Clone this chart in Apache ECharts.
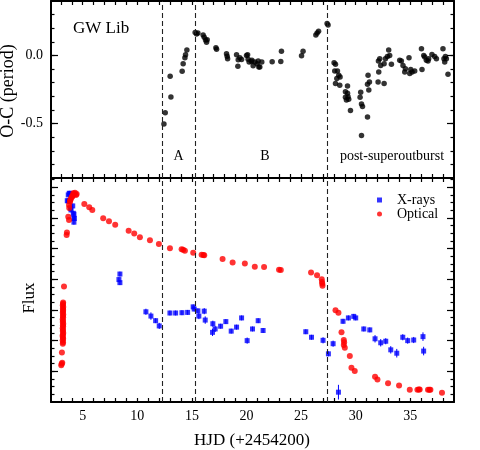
<!DOCTYPE html>
<html><head><meta charset="utf-8">
<script src="https://cdn.jsdelivr.net/npm/echarts@6/dist/echarts.min.js"></script>
<style>html,body{margin:0;padding:0;background:#fff}#c{width:480px;height:450px}</style>
</head><body><div id="c"></div><script>
// ---- Data (HJD - 2454200) ----
const ocDay = [12.44,12.56,13.01,13.08,14.11,14.20,14.36,14.42,14.54,
  15.30,15.43,15.55,16.03,16.13,16.25,16.40,16.34,17.20,17.26,18.17,18.23,18.27,19.09,19.24,19.21,19.39,19.55,
  20.00,20.10,20.15,20.24,20.46,20.49,20.61,20.76,20.97,21.07,21.13,21.22,21.40,22.35,23.14,23.20,25.04,25.18,
  26.35,26.47,26.60,27.38,27.47,
  28.02,28.15,28.08,28.33,28.45,28.57,28.27,28.15,28.54,29.25,29.06,29.25,29.06,29.30,29.36,29.15,29.52,
  30.46,30.40,30.53,30.62,31.08,30.53,31.13,31.26,31.08,31.20,32.08,32.20,32.29,32.11,32.05,32.60,32.60,32.72,
  32.90,33.02,33.11,33.27,34.03,34.18,34.33,34.49,34.55,34.88,34.95,35.16,35.40,35.04,36.02,36.07,36.23,36.32,
  36.47,36.62,36.68,36.98,37.23,37.39,37.99,38.08,38.15,38.21,38.30,38.45];
const ocValue = [-0.503,-0.420,-0.152,-0.305,-0.116,-0.060,-0.017,0.005,0.041,
  0.169,0.157,0.165,0.150,0.133,0.114,0.116,0.097,0.056,0.046,0.012,-0.005,-0.024,0.005,-0.031,-0.080,-0.017,-0.029,
  0.000,0.005,-0.027,-0.048,-0.044,-0.036,-0.075,-0.048,-0.060,-0.041,-0.085,-0.085,-0.048,-0.046,-0.044,0.031,-0.002,0.031,
  0.150,0.165,0.177,0.235,0.223,
  -0.053,-0.065,-0.114,-0.114,-0.145,-0.158,-0.169,-0.206,-0.218,-0.225,-0.266,-0.278,-0.307,-0.303,-0.322,-0.327,-0.404,
  -0.271,-0.307,-0.356,-0.375,-0.452,-0.588,-0.145,-0.194,-0.211,-0.254,-0.041,-0.024,-0.073,-0.121,-0.194,-0.206,-0.060,-0.024,
  -0.007,0.041,0.000,-0.065,-0.036,-0.041,-0.073,-0.121,-0.097,-0.017,-0.133,-0.121,-0.114,-0.104,0.049,-0.104,0.000,-0.012,
  -0.036,-0.041,-0.024,0.007,-0.007,-0.024,0.049,-0.024,-0.048,-0.007,-0.024,-0.138];

const xrayDay = [3.59,3.68,3.77,3.84,3.68,3.90,3.93,4.09,4.14,4.20,4.20,4.23,4.20,
  8.41,8.32,8.41,
  10.79,11.25,11.68,12.01,12.99,13.51,14.09,14.61,15.12,15.21,15.55,15.64,16.13,16.22,16.92,16.89,17.13,17.63,
  18.11,18.60,19.09,19.55,20.06,20.55,21.07,21.52,
  25.43,25.95,27.01,27.50,27.93,28.42,28.84,29.33,29.82,30.00,30.74,31.29,31.77,32.29,32.75,33.21,33.76,34.31,
  34.76,35.31,36.16,36.22];
const xrayFlux = [6.56,6.75,6.80,6.80,6.55,6.32,6.26,6.39,6.15,6.12,5.99,5.98,5.86,
  4.17,3.99,3.89,
  2.94,2.80,2.65,2.48,2.90,2.90,2.91,2.92,3.10,3.03,2.97,2.80,2.96,2.67,2.55,2.27,2.38,2.47,
  2.62,2.31,2.44,2.74,2.00,2.38,2.65,2.33,
  2.29,2.11,2.01,1.57,1.90,0.32,2.63,2.74,2.79,2.74,2.38,2.35,2.06,1.93,1.98,1.70,1.59,2.11,
  2.00,2.02,2.13,1.66];
const xrayErr = [0.08,0.08,0.08,0.08,0.08,0.08,0.08,0.08,0.08,0.08,0.08,0.08,0.08,
  0.08,0.08,0.08,
  0.10,0.12,0.08,0.10,0.08,0.08,0.08,0.08,0.08,0.08,0.08,0.10,0.10,0.12,0.10,0.12,0.10,0.08,
  0.08,0.08,0.08,0.08,0.10,0.08,0.08,0.08,
  0.08,0.08,0.10,0.08,0.10,0.24,0.08,0.08,0.08,0.08,0.08,0.08,0.12,0.12,0.10,0.12,0.14,0.10,
  0.10,0.10,0.14,0.14];

const opticalDay = [3.04,3.08,3.13,3.10,
  3.18,3.20,3.17,3.21,3.19,3.16,3.20,3.22,3.18,3.20,3.17,3.21,3.19,3.22,3.18,3.20,3.17,3.21,3.19,3.22,3.18,3.20,3.21,3.19,3.22,3.18,3.20,3.21,
  3.29,3.53,3.56,3.68,3.75,3.77,3.75,3.84,3.90,3.99,4.09,4.21,4.30,4.39,4.45,3.86,4.04,4.14,
  5.15,5.60,5.88,6.88,7.41,7.98,9.21,9.72,10.24,11.16,11.98,12.99,14.06,14.20,14.36,15.12,15.89,16.05,16.13,
  17.81,18.73,19.85,20.76,21.61,22.98,23.14,25.91,26.46,26.89,26.92,26.94,26.96,
  28.15,28.42,28.70,28.91,28.94,28.91,29.00,29.46,29.61,29.91,31.77,31.99,32.96,33.97,34.95,35.65,35.78,35.86,
  36.62,36.75,36.84,37.90];
const opticalFlux = [1.20,1.25,1.28,1.61,
  1.90,1.95,2.01,2.06,2.10,2.16,2.20,2.25,2.31,2.35,2.40,2.46,2.50,2.55,2.61,2.65,2.70,2.76,2.80,2.85,2.91,2.95,3.00,3.05,3.10,3.15,3.20,3.24,
  3.76,5.44,5.52,6.04,5.93,6.32,6.42,6.53,6.61,6.67,6.73,6.78,6.82,6.75,6.78,6.57,6.70,6.80,
  6.45,6.35,6.26,5.99,5.89,5.78,5.58,5.49,5.37,5.27,5.15,5.01,4.98,4.96,4.93,4.86,4.80,4.79,4.78,
  4.66,4.55,4.51,4.41,4.40,4.31,4.30,4.22,4.13,4.00,3.91,3.85,3.79,
  2.99,2.91,2.27,2.02,1.95,1.86,1.77,1.50,1.12,1.01,0.82,0.73,0.61,0.54,0.40,0.40,0.41,0.41,
  0.40,0.40,0.40,0.30];

const phaseBounds = [12.3, 15.3, 27.4];
const phaseNames = ['A', 'B', 'post-superoutburst'];

const xTicks = [3,4,5,6,7,8,9,10,11,12,13,14,15,16,17,18,19,20,21,22,23,24,25,26,27,28,29,30,31,32,33,34,35,36,37,38];
const xTickLabels = [5,10,15,20,25,30,35];
const ocTicks = [-0.9,-0.8,-0.7,-0.6,-0.5,-0.4,-0.3,-0.2,-0.1,0,0.1,0.2,0.3];
const ocMajorTicks = [-0.5, 0];
const fluxTicks = [0.25,0.5,0.75,1,1.25,1.5,1.75,2,2.25,2.5,2.75,3,3.25,3.5,3.75,4,4.25,4.5,4.75,5,5.25,5.5,5.75,6,6.25,6.5,6.75,7,7.25];
const fluxMajorTicks = [1,2,3,4,5,6,7];

// ---- Layout / styles ----
const FONT = '"Liberation Serif", "DejaVu Serif", serif';
const X_MIN = 2.1, X_MAX = 39;
const OC_MIN = -0.9, OC_MAX = 0.4;
const FLUX_MIN = 0, FLUX_MAX = 7.3;

function xAx(gridIndex, position, withLabels) {
  return {
    type: 'value', gridIndex, position, min: X_MIN, max: X_MAX,
    axisLine: { show: true, onZero: false, lineStyle: { color: '#000', width: 2 } },
    axisTick: { show: true, inside: true, length: 4, customValues: xTicks, lineStyle: { color: '#000', width: 1.2 } },
    axisLabel: withLabels ? { show: true, customValues: xTickLabels, margin: 7, fontFamily: FONT, fontSize: 14, color: '#000' } : { show: false },
    splitLine: { show: false }
  };
}
function yAx(gridIndex, position, min, max, ticks, len, showLine, labels) {
  return {
    type: 'value', gridIndex, position, min, max,
    axisLine: { show: showLine, onZero: false, lineStyle: { color: '#000', width: 2 } },
    axisTick: { show: true, inside: true, length: len, customValues: ticks, lineStyle: { color: '#000', width: 1.2 } },
    axisLabel: labels ? {
      show: true, customValues: labels, margin: 8, fontFamily: FONT, fontSize: 14, color: '#000',
      formatter: v => (Math.abs(v) < 1e-9 ? 0 : v).toFixed(1)
    } : { show: false },
    splitLine: { show: false }
  };
}

const dashLine = {
  silent: true, symbol: ['none', 'none'], animation: false,
  label: { show: false },
  lineStyle: { type: [5, 3], color: '#222', width: 1.1 },
  data: phaseBounds.map(v => ({ xAxis: v }))
};

const chart = echarts.init(document.getElementById('c'), null, { renderer: 'canvas' });
chart.setOption({
  animation: false,
  backgroundColor: '#fff',
  grid: [
    { left: 51, right: 26, top: 1, height: 177 },
    { left: 51, right: 26, top: 178, height: 224 }
  ],
  xAxis: [
    xAx(0, 'bottom', false), xAx(0, 'top', false),
    xAx(1, 'bottom', true), xAx(1, 'top', false)
  ],
  yAxis: [
    yAx(0, 'left', OC_MIN, OC_MAX, ocTicks, 3.5, true, ocMajorTicks),
    yAx(0, 'left', OC_MIN, OC_MAX, ocMajorTicks, 7, false, null),
    yAx(0, 'right', OC_MIN, OC_MAX, ocTicks, 3.5, true, null),
    yAx(0, 'right', OC_MIN, OC_MAX, ocMajorTicks, 7, false, null),
    yAx(1, 'left', FLUX_MIN, FLUX_MAX, fluxTicks, 3.5, true, null),
    yAx(1, 'left', FLUX_MIN, FLUX_MAX, fluxMajorTicks, 7, false, null),
    yAx(1, 'right', FLUX_MIN, FLUX_MAX, fluxTicks, 3.5, true, null),
    yAx(1, 'right', FLUX_MIN, FLUX_MAX, fluxMajorTicks, 7, false, null)
  ],
  legend: {
    data: [{ name: 'X-rays', icon: 'rect' }, { name: 'Optical', icon: 'circle' }],
    orient: 'vertical', left: 372, top: 188, itemWidth: 5, itemHeight: 5, itemGap: 0,
    selectedMode: false,
    textStyle: { fontFamily: FONT, fontSize: 14, color: '#000', lineHeight: 14, padding: [0, 0, 0, 10] }
  },
  graphic: [
    { type: 'text', x: 73, y: 29, style: { text: 'GW Lib', font: '17px ' + FONT, fill: '#000', align: 'left', verticalAlign: 'middle' } },
    { type: 'text', x: 178.5, y: 156, style: { text: phaseNames[0], font: '14px ' + FONT, fill: '#000', align: 'center', verticalAlign: 'middle' } },
    { type: 'text', x: 265, y: 156, style: { text: phaseNames[1], font: '14px ' + FONT, fill: '#000', align: 'center', verticalAlign: 'middle' } },
    { type: 'text', x: 392, y: 156, style: { text: phaseNames[2], font: '14px ' + FONT, fill: '#000', align: 'center', verticalAlign: 'middle' } },
    { type: 'text', x: 252, y: 441, style: { text: 'HJD (+2454200)', font: '17px ' + FONT, fill: '#000', align: 'center', verticalAlign: 'middle' } },
    { type: 'text', x: 8, y: 91, rotation: Math.PI / 2, style: { text: 'O-C (period)', font: '18px ' + FONT, fill: '#000', align: 'center', verticalAlign: 'middle' } },
    { type: 'text', x: 30, y: 298, rotation: Math.PI / 2, style: { text: 'Flux', font: '17px ' + FONT, fill: '#000', align: 'center', verticalAlign: 'middle' } }
  ],
  series: [
    {
      name: 'O-C', type: 'scatter', xAxisIndex: 0, yAxisIndex: 0,
      symbol: 'circle', symbolSize: 5.5, itemStyle: { color: '#000' },
      data: ocDay.map((d, i) => [d, ocValue[i]]),
      markLine: dashLine
    },
    {
      name: 'X-ray errors', type: 'custom', xAxisIndex: 2, yAxisIndex: 4,
      data: xrayDay.map((d, i) => [d, xrayFlux[i] - xrayErr[i], xrayFlux[i] + xrayErr[i]]),
      renderItem: function (params, api) {
        const lo = api.coord([api.value(0), api.value(1)]);
        const hi = api.coord([api.value(0), api.value(2)]);
        return { type: 'line', shape: { x1: lo[0], y1: lo[1], x2: hi[0], y2: hi[1] }, style: { stroke: '#0000ff', lineWidth: 1 } };
      },
      z: 1
    },
    {
      name: 'X-rays', type: 'scatter', xAxisIndex: 2, yAxisIndex: 4,
      symbol: 'rect', symbolSize: 5, itemStyle: { color: '#0000ff' },
      data: xrayDay.map((d, i) => [d, xrayFlux[i]]), z: 2
    },
    {
      name: 'Optical', type: 'scatter', xAxisIndex: 2, yAxisIndex: 4,
      symbol: 'circle', symbolSize: 6, itemStyle: { color: '#ff0000' },
      data: opticalDay.map((d, i) => [d, opticalFlux[i]]), z: 3,
      markLine: dashLine
    }
  ]
});
</script></body></html>
